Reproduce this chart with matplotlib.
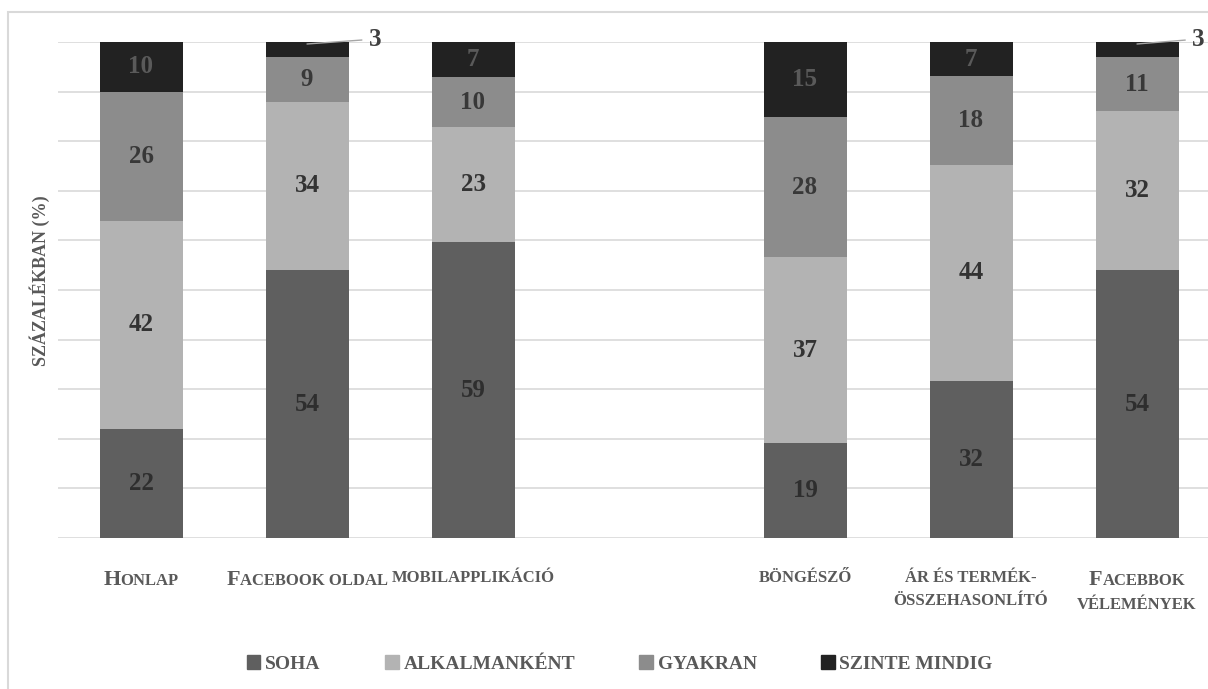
import numpy as np
import matplotlib.pyplot as plt
from matplotlib.patches import Patch, Rectangle
from matplotlib.offsetbox import TextArea, HPacker, VPacker, AnnotationBbox

plt.rcParams['font.family'] = ['Liberation Serif', 'DejaVu Serif']

# adatok (a középső üres hely elválasztja a két csoportot)
categories = ['Honlap', 'Facebook oldal', 'mobilapplikáció', '',
              'böngésző', 'ár és termék-\nösszehasonlító', 'Facebbok\nvélemények']
soha = [22, 54, 59, 0, 19, 32, 54]
alkalmankent = [42, 34, 23, 0, 37, 44, 32]
gyakran = [26, 9, 10, 0, 28, 18, 11]
szinte_mindig = [10, 3, 7, 0, 15, 7, 3]
series_names = ['soha', 'alkalmanként', 'gyakran', 'szinte mindig']
colors = ['#5f5f5f', '#b3b3b3', '#8c8c8c', '#222222']
label_colors = ['#2e2e2e', '#333333', '#383838', '#5a5a5a']

data = np.array([soha, alkalmankent, gyakran, szinte_mindig], dtype=float)
totals = data.sum(axis=0)
totals[totals == 0] = 1
pct = data / totals * 100

fig = plt.figure(figsize=(12.08, 6.89), dpi=100)
ax = fig.add_axes([58 / 1208, 1 - 538 / 689, (1220 - 58) / 1208, 496 / 689])

x = np.arange(len(categories))
bottom = np.zeros(len(categories))
for k in range(4):
    mask = data[k] > 0
    ax.bar(x[mask], pct[k][mask], 0.5, bottom=bottom[mask], color=colors[k], zorder=2)
    for i in x[mask]:
        if data[k][i] <= 3:
            # kis értékek: címke kívül, vezetővonallal
            off = 0.41 if i < len(categories) - 1 else 0.37
            ax.annotate(f'{int(data[k][i])}', xy=(i, 99.6), xytext=(i + off, 100.5),
                        ha='center', va='center', fontsize=18, fontweight='bold',
                        color='#404040', annotation_clip=False,
                        arrowprops=dict(arrowstyle='-', color='#a6a6a6', lw=1,
                                        relpos=(0, 0.5), shrinkA=3, shrinkB=0))
        else:
            ax.text(i, bottom[i] + pct[k][i] / 2, f'{int(data[k][i])}', ha='center',
                    va='center', fontsize=18, fontweight='bold', color=label_colors[k], zorder=3)
    bottom = bottom + pct[k]

ax.set_xlim(-0.5, 6.5)
ax.set_ylim(0, 100)
ax.set_yticks(np.arange(0, 101, 10))
ax.set_yticklabels([])
ax.set_xticks([])
ax.grid(axis='y', color='#d9d9d9', lw=1.2, zorder=0)
ax.tick_params(length=0)
for s in ax.spines.values():
    s.set_visible(False)


def small_caps_box(text, big=16, small=12):
    # kiskapitális: nagybetű nagy marad, kisbetű kicsi nagybetű lesz
    lines = []
    for line in text.split('\n'):
        runs = []
        for ch in line:
            is_big = ch.isupper()
            if ch == ' ' and runs:
                is_big = runs[-1][1]
            if runs and runs[-1][1] == is_big:
                runs[-1][0] += ch
            else:
                runs.append([ch, is_big])
        areas = [TextArea(r.upper(), textprops=dict(fontsize=big if b else small,
                                                    fontweight='bold', color='#595959'))
                 for r, b in runs]
        lines.append(HPacker(children=areas, align='baseline', pad=0, sep=0))
    return VPacker(children=lines, align='center', pad=0, sep=5)


for i, cat in enumerate(categories):
    if not cat:
        continue
    ab = AnnotationBbox(small_caps_box(cat), (i, 0), xycoords=('data', 'axes fraction'),
                        xybox=(0, -23), boxcoords='offset points', box_alignment=(0.5, 1),
                        frameon=False, annotation_clip=False)
    ax.add_artist(ab)

fig.text(40 / 1208, 1 - 281 / 689, 'SZÁZALÉKBAN (%)', rotation=90, ha='center', va='center',
         fontsize=13, fontweight='bold', color='#595959')

handles = [Patch(color=c, label=n.upper()) for c, n in zip(colors, series_names)]
leg = fig.legend(handles=handles, loc='center', bbox_to_anchor=(0.513, 1 - 664 / 689), ncol=4,
                 frameon=False, handlelength=0.7, handleheight=0.7, handletextpad=0.25,
                 columnspacing=3.3, prop=dict(size=14, weight='bold'))
for t in leg.get_texts():
    t.set_color('#595959')

fig.patches.append(Rectangle((8 / 1208, -0.05), 1.1, 1 - 12 / 689 + 0.05,
                             transform=fig.transFigure, fill=False, edgecolor='#d9d9d9', lw=1.5))

fig.savefig('out.png', dpi=100)
